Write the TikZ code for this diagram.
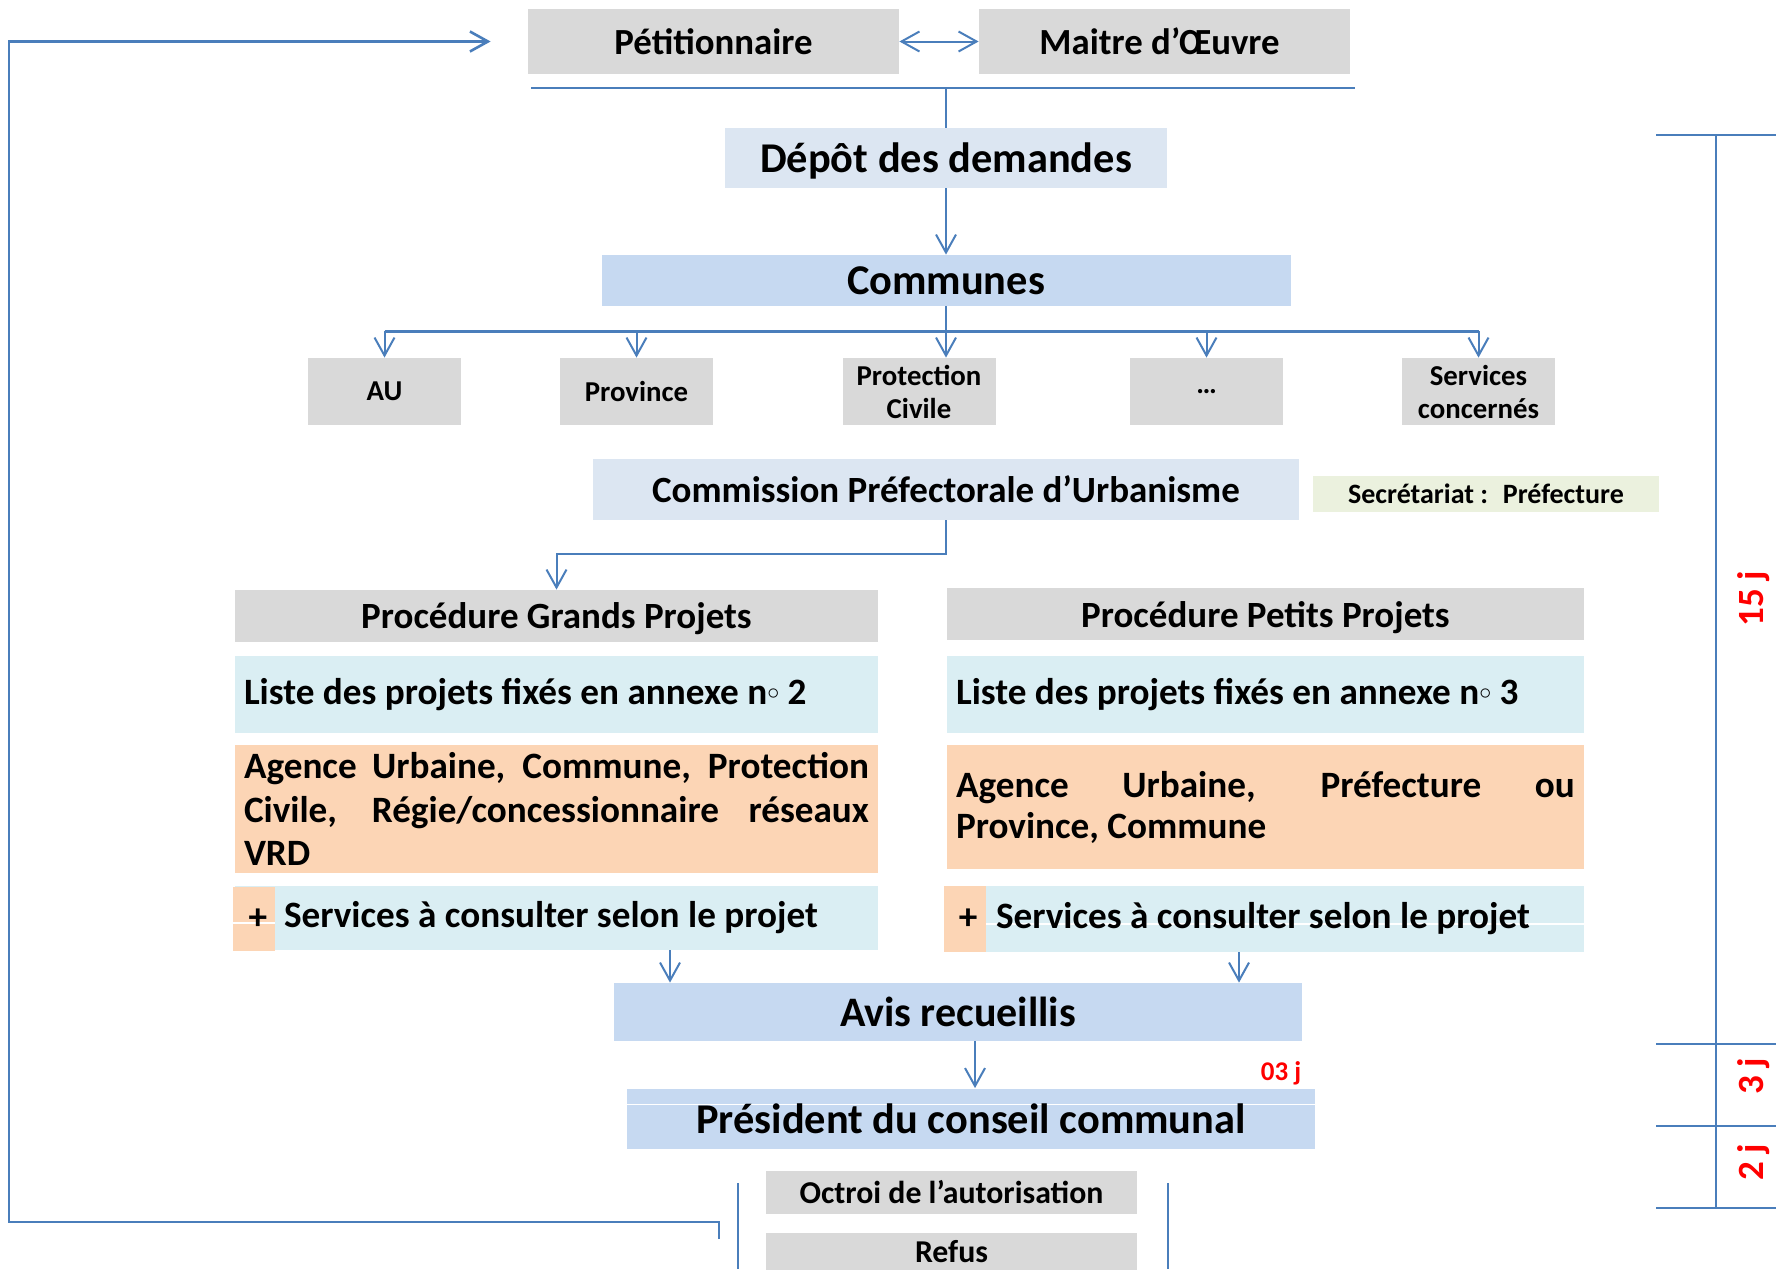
\documentclass[tikz,border=0pt]{standalone}
\usepackage{fontspec}
\setmainfont{Carlito}
\usetikzlibrary{arrows.meta,calc}

\definecolor{bleutrait}{HTML}{4A7EBB}
\definecolor{gris}{HTML}{D9D9D9}
\definecolor{bleuclair}{HTML}{DCE6F2}
\definecolor{bleumoyen}{HTML}{C6D9F1}
\definecolor{bleuliste}{HTML}{DAEEF3}
\definecolor{peche}{HTML}{FCD5B5}
\definecolor{vertpale}{HTML}{EBF1DE}

\begin{document}
\begin{tikzpicture}[x=0.5pt,y=-0.5pt,
	>={Straight Barb[length=9pt,width=10pt]},
	boite/.style={inner sep=0pt, align=center},
	ligne/.style={inner xsep=4.5pt, inner ysep=0pt},
	filet/.style={path picture={\draw[white, line width=0.6pt] ($(path picture bounding box.west)+(0,#1)$) -- ($(path picture bounding box.east)+(0,#1)$);}},
	fleche/.style={draw=bleutrait, line width=1pt, ->},
	trait/.style={draw=bleutrait, line width=1.3pt},
	jours/.style={text=red, font=\bfseries\fontsize{18.5}{20}\selectfont, inner sep=0pt}]
	\useasboundingbox (0,0) rectangle (1780,1269);
	
	% demandeurs
	\node[boite, fill=gris, minimum width=185.5pt, minimum height=32.5pt, font=\bfseries\fontsize{18.4}{22}\selectfont] (petit) at (713.5,41.5) {Pétitionnaire};
	\node[boite, fill=gris, minimum width=185.5pt, minimum height=32.5pt, font=\bfseries\fontsize{18.4}{22}\selectfont] (moe) at (1164.5,41.5) {Maitre d’Œuvre\hspace*{5pt}};
	\draw[fleche, <->] (petit) -- (moe);
	\coordinate (sg) at (531,88);
	\coordinate (sd) at (1355,88);
	\draw[trait] (sg) -- (sd);
	
	\node[boite, fill=bleuclair, minimum width=221pt, minimum height=30pt, text depth=0pt, font=\bfseries\fontsize{21.2}{25}\selectfont] (depot) at (946,158) {Dépôt des demandes};
	\draw[trait, line width=1pt] (depot.north |- sg) -- (depot.north);
	
	\node[boite, fill=bleumoyen, minimum width=344.5pt, minimum height=25.5pt, font=\bfseries\fontsize{21.2}{25}\selectfont] (communes) at (946,280.5) {Communes};
	\draw[fleche] (depot) -- (communes);
	
	% services consultes
	\node[boite, fill=gris, minimum width=76.5pt, minimum height=33.5pt, font=\bfseries\fontsize{14.4}{16.5}\selectfont] (au) at (384.5,391.5) {AU};
	\node[boite, fill=gris, minimum width=76.5pt, minimum height=33.5pt, font=\bfseries\fontsize{14.4}{16.5}\selectfont] (prov) at (636.5,391.5) {Province};
	\node[boite, fill=gris, minimum width=76.5pt, minimum height=33.5pt, font=\bfseries\fontsize{14.4}{16.5}\selectfont] (pc) at (919,391.5) {Protection\\Civile};
	\node[boite, fill=gris, minimum width=76.5pt, minimum height=33.5pt, font=\bfseries\fontsize{14.4}{16.5}\selectfont] (autres) at (1206.5,391.5) {…};
	\node[boite, fill=gris, minimum width=76.5pt, minimum height=33.5pt, font=\bfseries\fontsize{14.4}{16.5}\selectfont] (serv) at (1478.5,391.5) {Services\\concernés};
	\coordinate (br) at ($(communes.south)+(0,25)$);
	\draw[trait, line width=1pt] (communes.south) -- (br);
	\draw[trait] (au.north |- br) -- (serv.north |- br);
	\foreach \n in {au,prov,autres,serv}
		\draw[fleche] (\n.north |- br) -- (\n.north);
	\draw[fleche] (br) -- (br |- pc.north);
	
	\node[boite, fill=bleuclair, minimum width=353pt, minimum height=30.5pt, font=\bfseries\fontsize{18.5}{22}\selectfont] (cpu) at (946,489.5) {Commission Préfectorale d’Urbanisme};
	\node[boite, fill=vertpale, minimum width=173pt, minimum height=18pt, font=\bfseries\fontsize{14}{16}\selectfont] (secr) at (1486,494) {Secrétariat : ~Préfecture};
	
	% grands projets
	\node[boite, fill=gris, minimum width=321.5pt, minimum height=26pt, text depth=0pt, font=\bfseries\fontsize{18.5}{22}\selectfont] (gp) at (556.5,616) {Procédure Grands Projets};
	\coordinate (coude) at ($(cpu.south)+(0,34)$);
	\draw[fleche] (cpu.south) -- (coude) -| (gp.north);
	\node[ligne, fill=bleuliste, text width=312.5pt, minimum height=38.5pt, align=flush left, font=\bfseries\fontsize{18.6}{22}\selectfont] (liste2) at (556.5,694.5) {Liste des projets fixés en annexe n\raisebox{2.5pt}{$\scriptstyle\circ$} 2};
	\node[ligne, fill=peche, text width=312.5pt, minimum height=64pt, align=justify, font=\bfseries\fontsize{18.6}{21.8}\selectfont] (agence2) at (556.5,809) {Agence Urbaine, Commune, Protection\linebreak Civile, Régie/concessionnaire réseaux\linebreak VRD};
	\node[ligne, fill=bleuliste, text width=312.5pt, minimum height=32pt, align=flush left, font=\bfseries\fontsize{18.6}{22}\selectfont] (consult2) at (556.5,918) {\hspace*{20pt}Services à consulter selon le projet};
	\node[boite, fill=peche, filet=4, minimum width=21pt, minimum height=32pt, font=\bfseries\fontsize{18.6}{22}\selectfont] (plus2) at (254,919) {\hspace*{4pt}+};
	
	% petits projets
	\node[boite, fill=gris, minimum width=318.5pt, minimum height=26pt, text depth=0pt, font=\bfseries\fontsize{18.5}{22}\selectfont] (ppr) at (1265.5,614) {Procédure Petits Projets};
	\node[ligne, fill=bleuliste, text width=309.5pt, minimum height=38.5pt, align=flush left, font=\bfseries\fontsize{18.6}{22}\selectfont] (liste3) at (1265.5,694.5) {Liste des projets fixés en annexe n\raisebox{2.5pt}{$\scriptstyle\circ$} 3};
	\node[ligne, fill=peche, text width=309.5pt, minimum height=62pt, align=justify, font=\bfseries\fontsize{18.6}{20.5}\selectfont] (agence3) at (1265.5,807) {Agence Urbaine, Préfecture ou\linebreak Province, Commune};
	\node[ligne, fill=bleuliste, filet=5, text width=309.5pt, minimum height=33pt, align=flush left, font=\bfseries\fontsize{18.6}{22}\selectfont] (consult3) at (1265.5,919) {\hspace*{20pt}Services à consulter selon le projet};
	\node[boite, fill=peche, minimum width=21pt, minimum height=33pt, font=\bfseries\fontsize{18.6}{22}\selectfont] (plus3) at (965,919) {\hspace*{3pt}+};
	
	% avis et decision
	\node[boite, fill=bleumoyen, minimum width=344pt, minimum height=29pt, font=\bfseries\fontsize{21}{25}\selectfont] (avis) at (958,1012) {Avis recueillis};
	\coordinate (xg) at (670,0);
	\coordinate (xd) at (1239,0);
	\coordinate (xp) at (975,0);
	\draw[fleche] (xg |- consult2.south) -- (xg |- avis.north);
	\draw[fleche] (xd |- consult3.south) -- (xd |- avis.north);
	\node[boite, fill=bleumoyen, filet=-14, minimum width=344pt, minimum height=30pt, font=\bfseries\fontsize{21.2}{25}\selectfont] (pres) at (971,1118.5) {Président du conseil communal};
	\draw[fleche] (xp |- avis.south) -- (xp |- pres.north);
	\node[jours, font=\bfseries\fontsize{13.5}{15}\selectfont] (d03) at (1281,1073) {03 j};
	
	\node[boite, fill=gris, minimum width=185.5pt, minimum height=21.5pt, font=\bfseries\fontsize{15.9}{18}\selectfont] (octroi) at (951.5,1192.5) {Octroi de l’autorisation};
	\node[boite, fill=gris, minimum width=185.5pt, minimum height=19pt, font=\bfseries\fontsize{15.9}{18}\selectfont] (refus) at (951.5,1251.5) {Refus};
	\coordinate (ag) at (738,1183);
	\coordinate (ad) at (1168,1183);
	\draw[trait, line width=1pt] (ag) -- (ag |- 0,1269);
	\draw[trait, line width=1pt] (ad) -- (ad |- 0,1269);
	
	% retour vers le petitionnaire
	\coordinate (r1) at (719,1239);
	\coordinate (r2) at (719,1222);
	\coordinate (r3) at (9,1222);
	\coordinate (r4) at (9,41.5);
	\coordinate (r5) at ($(petit.west)+(-37,0)$);
	\draw[trait, ->] (r1) -- (r2) -- (r3) -- (r4) -- (r5);
	
	% delais
	\foreach \y in {135,1044,1126,1208}
		\draw[trait] (1656,\y) -- (1776,\y);
	\draw[trait] (1716,135) -- (1716,1208);
	\node[jours, rotate=90] (d15) at (1754,599) {15 j};
	\node[jours, rotate=90] (d3) at (1754,1076) {3 j};
	\node[jours, rotate=90] (d2) at (1754,1162) {2 j};
\end{tikzpicture}
\end{document}
